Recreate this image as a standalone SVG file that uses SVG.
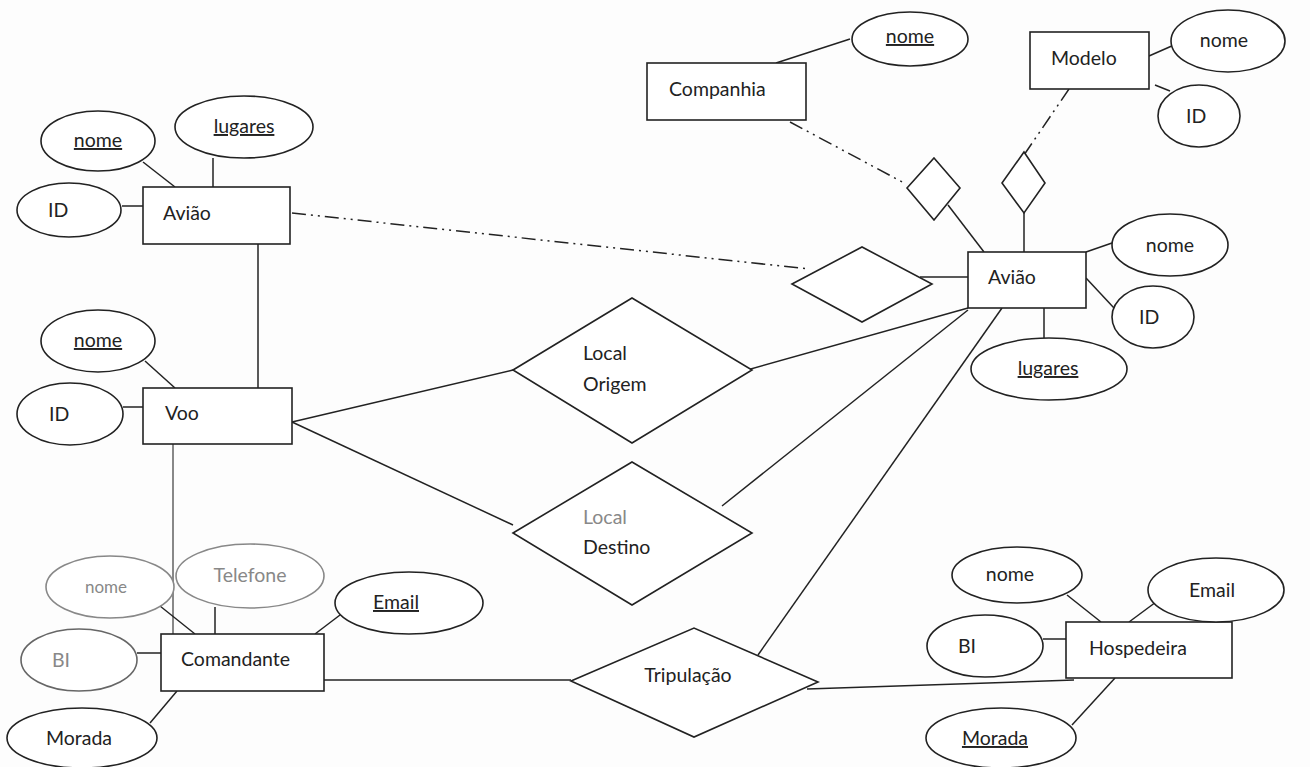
<svg xmlns="http://www.w3.org/2000/svg" width="1310" height="767" viewBox="0 0 1310 767">
<style>
.b{fill:#fff;stroke:#222;stroke-width:1.6}
.g{fill:#fff;stroke:#888;stroke-width:1.6}
.l{fill:none;stroke:#222;stroke-width:1.5}
.dd{fill:none;stroke:#222;stroke-width:1.5;stroke-dasharray:14 5 2 5 2 5}
.t{font-family:Lato,"Liberation Sans",sans-serif;font-size:19.5px;fill:#222}
.tg{font-family:Lato,"Liberation Sans",sans-serif;font-size:19.5px;fill:#888}
.m{text-anchor:middle}
.u{text-decoration:underline}
</style>
<rect width="1310" height="767" fill="#fdfdfd"/>
<g id="connectors">
<line class="l" x1="143" y1="162" x2="175" y2="187"/>
<line class="l" x1="213" y1="158" x2="213" y2="187"/>
<line class="l" x1="122" y1="206" x2="143" y2="206"/>
<line class="l" x1="258" y1="244" x2="258" y2="388"/>
<line class="l" x1="145" y1="361" x2="175" y2="388"/>
<line class="l" x1="123" y1="407" x2="143" y2="407"/>
<line x1="173" y1="444" x2="173" y2="634" stroke="#888" stroke-width="2"/>
<line class="l" x1="292" y1="422" x2="513" y2="370"/>
<line class="l" x1="292" y1="422" x2="513" y2="525"/>
<line class="dd" x1="292" y1="213" x2="809" y2="269"/>
<line class="l" x1="920" y1="277" x2="968" y2="277"/>
<line class="l" x1="740" y1="372" x2="968" y2="308"/>
<line class="l" x1="722" y1="506" x2="968" y2="310"/>
<line class="l" x1="758" y1="655" x2="1002" y2="308"/>
<line class="l" x1="776" y1="63" x2="850" y2="39"/>
<line class="dd" x1="790" y1="122" x2="906" y2="184"/>
<line class="dd" x1="1069" y1="89" x2="1024" y2="155"/>
<line class="l" x1="948" y1="205" x2="984" y2="252"/>
<line class="l" x1="1024" y1="205" x2="1024" y2="252"/>
<line class="l" x1="1149" y1="56" x2="1174" y2="45"/>
<line class="l" x1="1155" y1="85" x2="1170" y2="91"/>
<line class="l" x1="1086" y1="252" x2="1112" y2="243"/>
<line class="l" x1="1086" y1="278" x2="1114" y2="308"/>
<line class="l" x1="1044" y1="308" x2="1044" y2="338"/>
<line class="l" x1="160" y1="606" x2="195" y2="634"/>
<line class="l" x1="215" y1="607" x2="215" y2="634"/>
<line class="l" x1="315" y1="634" x2="340" y2="615"/>
<line class="l" x1="137" y1="653" x2="161" y2="653"/>
<line class="l" x1="150" y1="723" x2="177" y2="691"/>
<line class="l" x1="324" y1="680" x2="571" y2="680"/>
<line class="l" x1="807" y1="689" x2="1074" y2="680"/>
<line class="l" x1="1067" y1="595" x2="1101" y2="622"/>
<line class="l" x1="1129" y1="622" x2="1156" y2="602"/>
<line class="l" x1="1043" y1="639" x2="1066" y2="639"/>
<line class="l" x1="1115" y1="678" x2="1072" y2="725"/>
</g>
<g id="aviao-left">
<rect class="b" x="143" y="187" width="147" height="57"/>
<text class="t" x="163" y="220">Avião</text>
</g>
<g id="aviao-left-nome"><ellipse class="b" cx="98" cy="141" rx="57" ry="30"/><text class="t m u" x="98" y="147">nome</text></g>
<g id="aviao-left-lugares"><ellipse class="b" cx="244" cy="127" rx="69" ry="31"/><text class="t m u" x="244" y="133">lugares</text></g>
<g id="aviao-left-id"><ellipse class="b" cx="69" cy="210" rx="52" ry="27"/><text class="t" x="48" y="217">ID</text></g>
<g id="voo">
<rect class="b" x="143" y="388" width="149" height="56"/>
<text class="t" x="165" y="420">Voo</text>
</g>
<g id="voo-nome"><ellipse class="b" cx="98" cy="341" rx="57" ry="31"/><text class="t m u" x="98" y="347">nome</text></g>
<g id="voo-id"><ellipse class="b" cx="70" cy="414" rx="53" ry="31"/><text class="t" x="49" y="421">ID</text></g>
<g id="local-origem">
<polygon class="b" points="513,370 632,298 752,370 632,443"/>
<text class="t" x="583" y="360">Local</text>
<text class="t" x="583" y="391">Origem</text>
</g>
<g id="local-destino">
<polygon class="b" points="513,533 632,462 752,533 632,605"/>
<text class="tg" x="583" y="524">Local</text>
<text class="t" x="583" y="554">Destino</text>
</g>
<g id="rel-aviao">
<polygon class="b" points="792,284 862,247 932,284 862,322"/>
</g>
<g id="companhia">
<rect class="b" x="647" y="63" width="159" height="57"/>
<text class="t" x="669" y="96">Companhia</text>
</g>
<g id="companhia-nome"><ellipse class="b" cx="910" cy="39" rx="58" ry="27"/><text class="t m u" x="910" y="43">nome</text></g>
<g id="rel-companhia"><polygon class="b" points="934,158 960,188 934,220 907,188"/></g>
<g id="modelo">
<rect class="b" x="1030" y="32" width="119" height="57"/>
<text class="t" x="1051" y="65">Modelo</text>
</g>
<g id="modelo-nome"><ellipse class="b" cx="1228" cy="41" rx="57" ry="31"/><text class="t m" x="1224" y="47">nome</text></g>
<g id="modelo-id"><ellipse class="b" cx="1199" cy="116" rx="41" ry="31"/><text class="t" x="1186" y="123">ID</text></g>
<g id="rel-modelo"><polygon class="b" points="1024,152 1045,183 1024,213 1002,183"/></g>
<g id="aviao-right">
<rect class="b" x="968" y="252" width="118" height="56"/>
<text class="t" x="988" y="284">Avião</text>
</g>
<g id="aviao-right-nome"><ellipse class="b" cx="1170" cy="245" rx="58" ry="31"/><text class="t m" x="1170" y="252">nome</text></g>
<g id="aviao-right-id"><ellipse class="b" cx="1153" cy="317" rx="41" ry="31"/><text class="t" x="1139" y="324">ID</text></g>
<g id="aviao-right-lugares"><ellipse class="b" cx="1049" cy="369" rx="78" ry="31"/><text class="t m u" x="1048" y="375">lugares</text></g>
<g id="comandante">
<rect class="b" x="161" y="634" width="163" height="57"/>
<text class="t" x="181" y="666">Comandante</text>
</g>
<g id="comandante-nome"><ellipse class="g" cx="110" cy="587" rx="64" ry="31"/><text class="tg m" x="106" y="593" style="font-size:17px">nome</text></g>
<g id="comandante-telefone"><ellipse class="g" cx="250" cy="576" rx="74" ry="32"/><text class="tg m" x="250" y="582">Telefone</text></g>
<g id="comandante-email"><ellipse class="b" cx="409" cy="603" rx="74" ry="31"/><text class="t m u" x="396" y="609">Email</text></g>
<g id="comandante-bi"><ellipse class="g" cx="79" cy="660" rx="58" ry="31" style="stroke:#666"/><text class="tg" x="52" y="667">BI</text></g>
<g id="comandante-morada"><ellipse class="b" cx="82" cy="738" rx="75" ry="30"/><text class="t m" x="79" y="745">Morada</text></g>
<g id="tripulacao">
<polygon class="b" points="571,681 694,628 818,682 694,737"/>
<text class="t m" x="688" y="682">Tripulação</text>
</g>
<g id="hospedeira">
<rect class="b" x="1066" y="622" width="166" height="56"/>
<text class="t" x="1089" y="655">Hospedeira</text>
</g>
<g id="hospedeira-nome"><ellipse class="b" cx="1017" cy="575" rx="65" ry="28"/><text class="t m" x="1010" y="581">nome</text></g>
<g id="hospedeira-email"><ellipse class="b" cx="1216" cy="590" rx="68" ry="32"/><text class="t m" x="1212" y="597">Email</text></g>
<g id="hospedeira-bi"><ellipse class="b" cx="985" cy="646" rx="58" ry="31"/><text class="t" x="958" y="653">BI</text></g>
<g id="hospedeira-morada"><ellipse class="b" cx="1001" cy="738" rx="75" ry="30"/><text class="t m u" x="995" y="745">Morada</text></g>
</svg>
